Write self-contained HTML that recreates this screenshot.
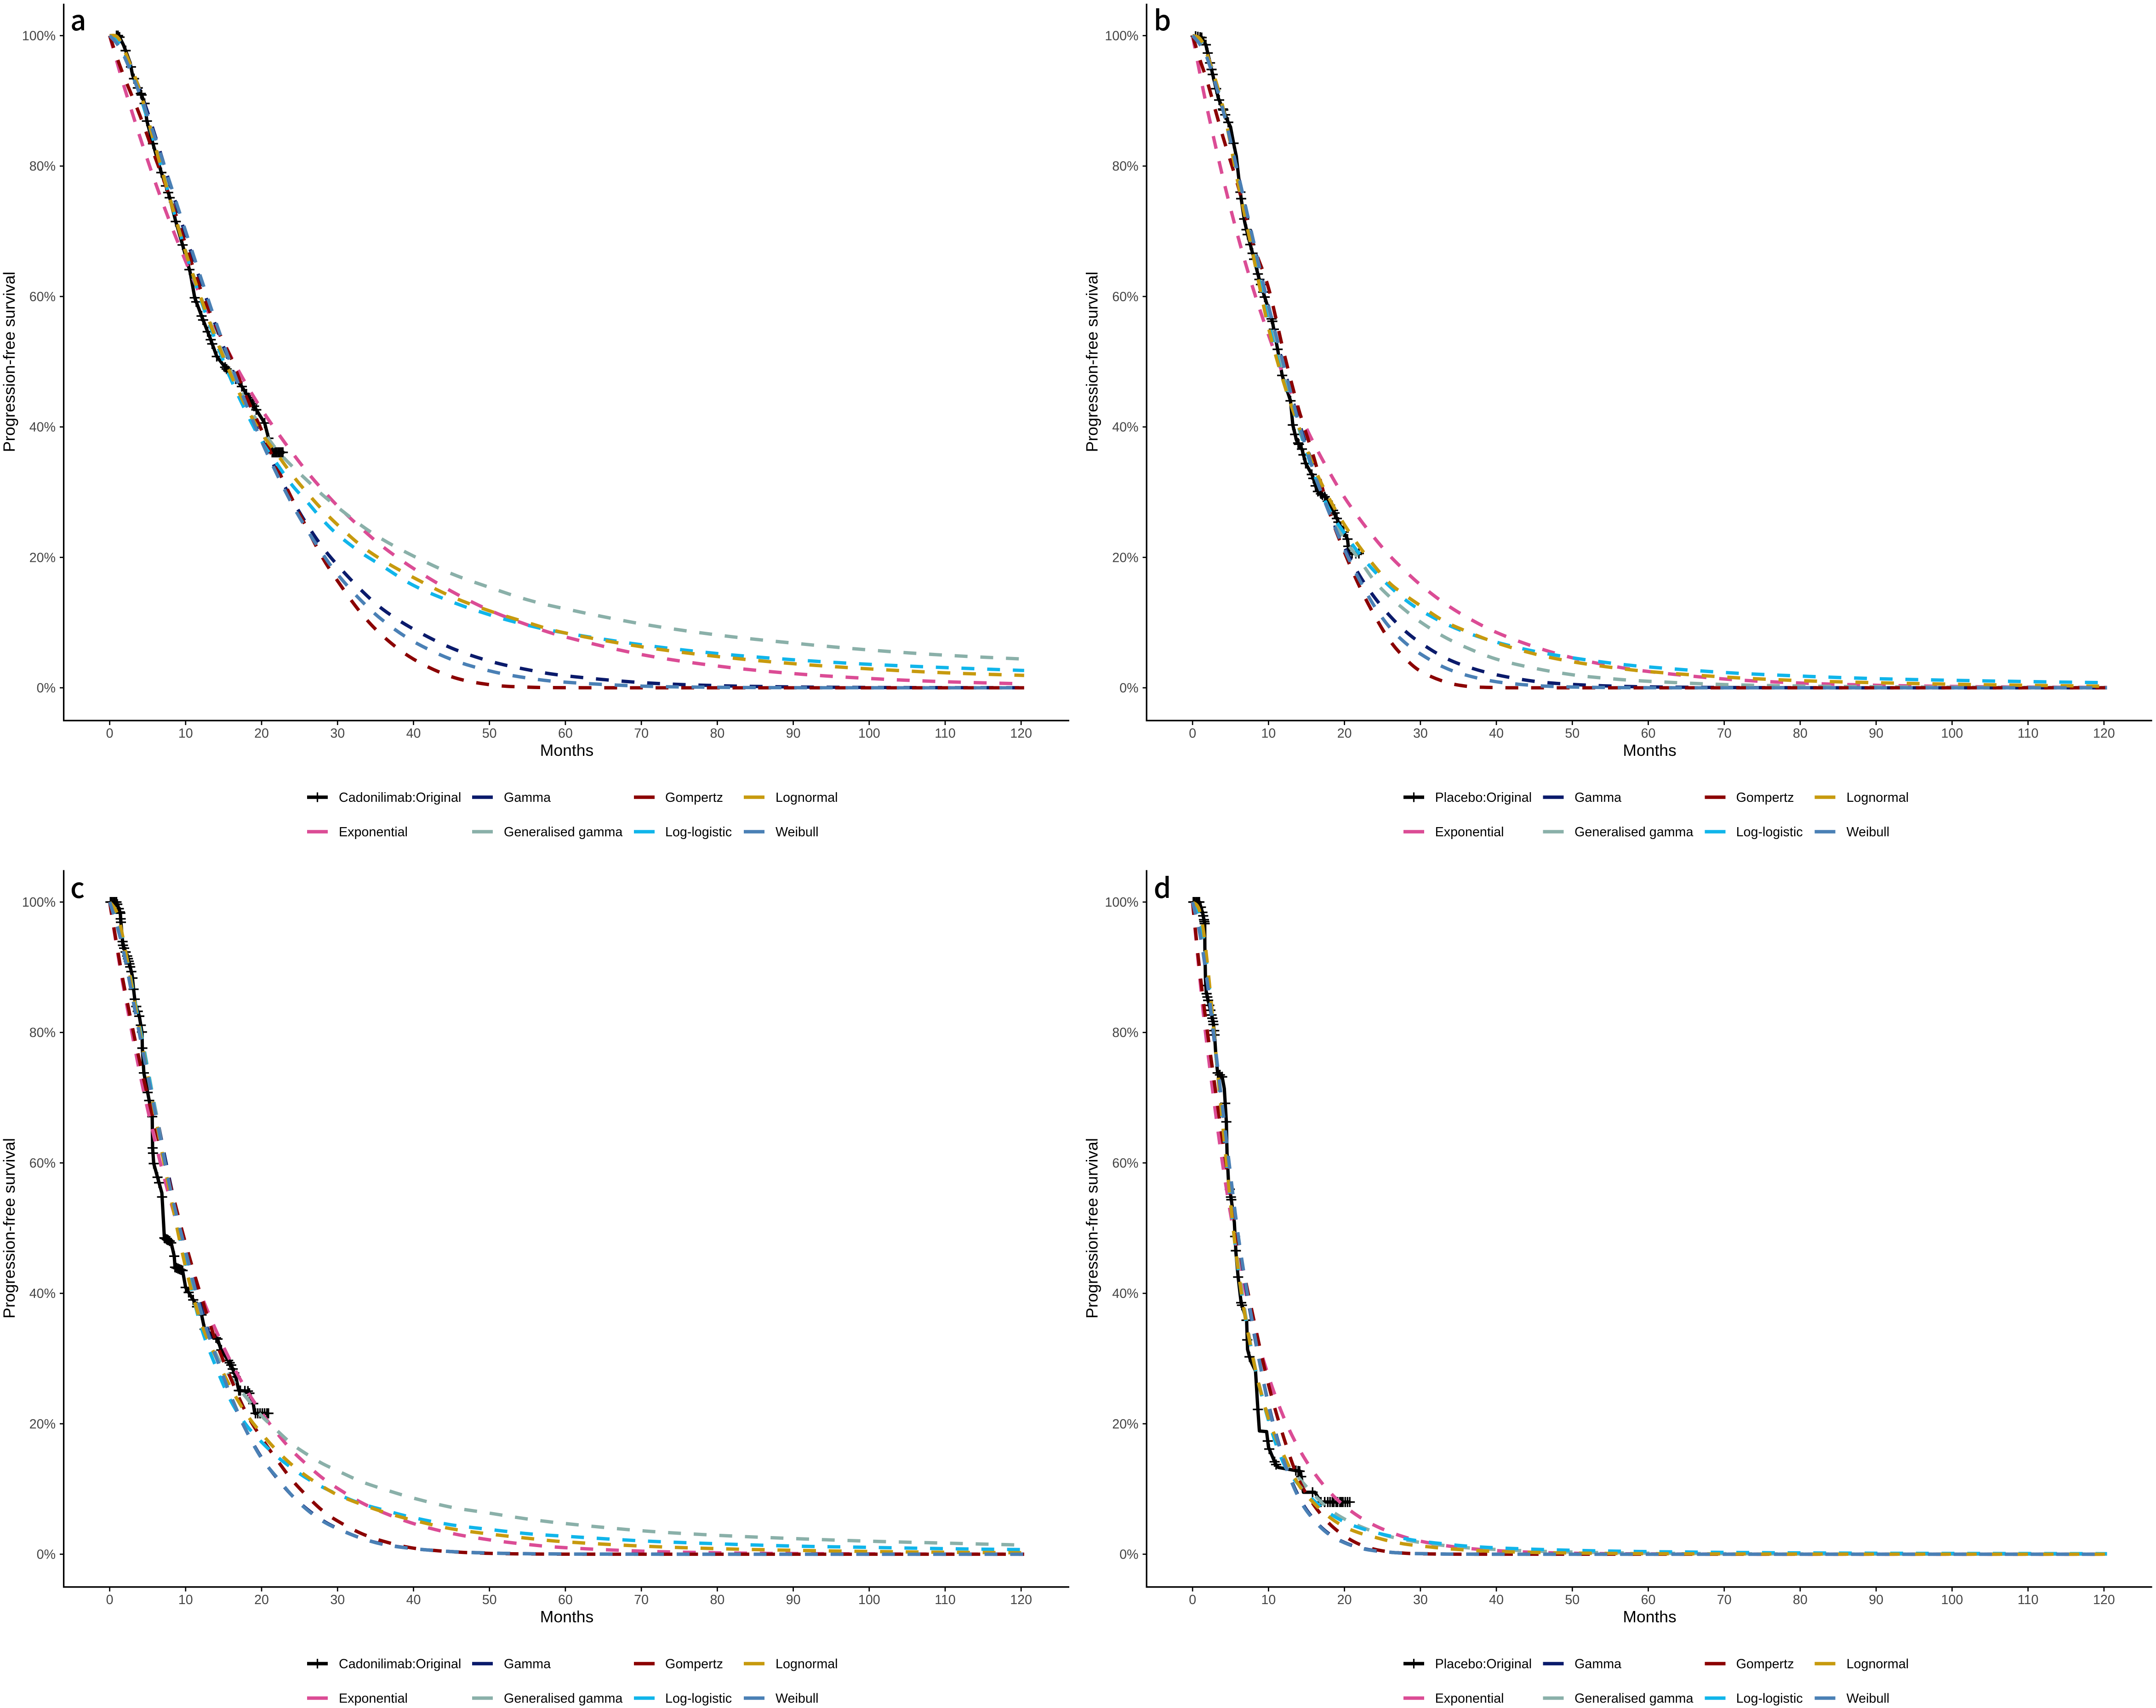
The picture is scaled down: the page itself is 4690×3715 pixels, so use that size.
<!DOCTYPE html>
<html lang="en">
<head>
<meta charset="utf-8">
<title>Progression-free survival extrapolations</title>
<style>
  html, body { margin: 0; padding: 0; background: #ffffff; }
  svg { display: block; font-family: "Liberation Sans", sans-serif; }
  .legend-text { font-size: 28.7px; fill: #000000; }
  .axis-title { font-size: 35.5px; fill: #000000; }
  .panel-letter { font-family: "Noto Sans CJK SC", "Liberation Sans", sans-serif; font-weight: 500; font-size: 60px; fill: #000000; }
  .tick-label { font-size: 28.6px; fill: #444444; }
  .axis-line { stroke: #000000; stroke-width: 3.3; fill: none; }
  .tick-mark { stroke: #000000; stroke-width: 2.7; fill: none; }
</style>
</head>
<body>
<svg id="figure" xmlns="http://www.w3.org/2000/svg" width="4690" height="3715" viewBox="0 0 4690 3715">
  <rect x="0" y="0" width="4690" height="3715" fill="#ffffff"/>

  <g id="panel-a" transform="translate(0 0)">
    <text class="panel-letter" x="153" y="66">a</text>
    <line class="axis-line" x1="138.6" y1="8" x2="138.6" y2="1569"/>
    <line class="axis-line" x1="137" y1="1567.3" x2="2326" y2="1567.3"/>
    <text class="axis-title" x="32" y="787" text-anchor="middle" transform="rotate(-90 32 787)">Progression-free survival</text>
    <text class="axis-title" x="1233" y="1644" text-anchor="middle">Months</text>
    <g>
      <g><line x1="668" x2="713" y1="1734" y2="1734" stroke="#000000" stroke-width="7.5"/><line x1="690.5" x2="690.5" y1="1723.5" y2="1744.5" stroke="#000000" stroke-width="3.2"/><text class="legend-text" x="737" y="1744">Cadonilimab:Original</text></g>
      <g><line x1="1027" x2="1072" y1="1734" y2="1734" stroke="#0a1a6b" stroke-width="7.5"/><text class="legend-text" x="1096" y="1744">Gamma</text></g>
      <g><line x1="1379" x2="1424" y1="1734" y2="1734" stroke="#8b0000" stroke-width="7.5"/><text class="legend-text" x="1447" y="1744">Gompertz</text></g>
      <g><line x1="1618" x2="1663" y1="1734" y2="1734" stroke="#c79a0e" stroke-width="7.5"/><text class="legend-text" x="1687" y="1744">Lognormal</text></g>
      <g><line x1="668" x2="713" y1="1809" y2="1809" stroke="#db4c95" stroke-width="7.5"/><text class="legend-text" x="737" y="1819">Exponential</text></g>
      <g><line x1="1027" x2="1072" y1="1809" y2="1809" stroke="#8ab0a9" stroke-width="7.5"/><text class="legend-text" x="1096" y="1819">Generalised gamma</text></g>
      <g><line x1="1379" x2="1424" y1="1809" y2="1809" stroke="#10b5ea" stroke-width="7.5"/><text class="legend-text" x="1447" y="1819">Log-logistic</text></g>
      <g><line x1="1618" x2="1663" y1="1809" y2="1809" stroke="#4a80b5" stroke-width="7.5"/><text class="legend-text" x="1687" y="1819">Weibull</text></g>
    </g>
  </g>

  <g id="panel-b" transform="translate(2355.6 0)">
    <text class="panel-letter" x="154" y="66">b</text>
    <line class="axis-line" x1="138.6" y1="8" x2="138.6" y2="1569"/>
    <line class="axis-line" x1="137" y1="1567.3" x2="2326" y2="1567.3"/>
    <text class="axis-title" x="32" y="787" text-anchor="middle" transform="rotate(-90 32 787)">Progression-free survival</text>
    <text class="axis-title" x="1233" y="1644" text-anchor="middle">Months</text>
    <g>
      <g><line x1="697.4" x2="742.4" y1="1734" y2="1734" stroke="#000000" stroke-width="7.5"/><line x1="719.9" x2="719.9" y1="1723.5" y2="1744.5" stroke="#000000" stroke-width="3.2"/><text class="legend-text" x="766" y="1744">Placebo:Original</text></g>
      <g><line x1="1000.9" x2="1045.9" y1="1734" y2="1734" stroke="#0a1a6b" stroke-width="7.5"/><text class="legend-text" x="1069.5" y="1744">Gamma</text></g>
      <g><line x1="1352.9" x2="1397.9" y1="1734" y2="1734" stroke="#8b0000" stroke-width="7.5"/><text class="legend-text" x="1421" y="1744">Gompertz</text></g>
      <g><line x1="1591.9" x2="1636.9" y1="1734" y2="1734" stroke="#c79a0e" stroke-width="7.5"/><text class="legend-text" x="1661" y="1744">Lognormal</text></g>
      <g><line x1="697.4" x2="742.4" y1="1809" y2="1809" stroke="#db4c95" stroke-width="7.5"/><text class="legend-text" x="766" y="1819">Exponential</text></g>
      <g><line x1="1000.9" x2="1045.9" y1="1809" y2="1809" stroke="#8ab0a9" stroke-width="7.5"/><text class="legend-text" x="1069.5" y="1819">Generalised gamma</text></g>
      <g><line x1="1352.9" x2="1397.9" y1="1809" y2="1809" stroke="#10b5ea" stroke-width="7.5"/><text class="legend-text" x="1421" y="1819">Log-logistic</text></g>
      <g><line x1="1591.9" x2="1636.9" y1="1809" y2="1809" stroke="#4a80b5" stroke-width="7.5"/><text class="legend-text" x="1661" y="1819">Weibull</text></g>
    </g>
  </g>

  <g id="panel-c" transform="translate(0 1884.5)">
    <text class="panel-letter" x="153" y="68.5">c</text>
    <line class="axis-line" x1="138.6" y1="8" x2="138.6" y2="1569"/>
    <line class="axis-line" x1="137" y1="1567.3" x2="2326" y2="1567.3"/>
    <text class="axis-title" x="32" y="787" text-anchor="middle" transform="rotate(-90 32 787)">Progression-free survival</text>
    <text class="axis-title" x="1233" y="1644" text-anchor="middle">Months</text>
    <g>
      <g><line x1="668" x2="713" y1="1734" y2="1734" stroke="#000000" stroke-width="7.5"/><line x1="690.5" x2="690.5" y1="1723.5" y2="1744.5" stroke="#000000" stroke-width="3.2"/><text class="legend-text" x="737" y="1744">Cadonilimab:Original</text></g>
      <g><line x1="1027" x2="1072" y1="1734" y2="1734" stroke="#0a1a6b" stroke-width="7.5"/><text class="legend-text" x="1096" y="1744">Gamma</text></g>
      <g><line x1="1379" x2="1424" y1="1734" y2="1734" stroke="#8b0000" stroke-width="7.5"/><text class="legend-text" x="1447" y="1744">Gompertz</text></g>
      <g><line x1="1618" x2="1663" y1="1734" y2="1734" stroke="#c79a0e" stroke-width="7.5"/><text class="legend-text" x="1687" y="1744">Lognormal</text></g>
      <g><line x1="668" x2="713" y1="1809" y2="1809" stroke="#db4c95" stroke-width="7.5"/><text class="legend-text" x="737" y="1819">Exponential</text></g>
      <g><line x1="1027" x2="1072" y1="1809" y2="1809" stroke="#8ab0a9" stroke-width="7.5"/><text class="legend-text" x="1096" y="1819">Generalised gamma</text></g>
      <g><line x1="1379" x2="1424" y1="1809" y2="1809" stroke="#10b5ea" stroke-width="7.5"/><text class="legend-text" x="1447" y="1819">Log-logistic</text></g>
      <g><line x1="1618" x2="1663" y1="1809" y2="1809" stroke="#4a80b5" stroke-width="7.5"/><text class="legend-text" x="1687" y="1819">Weibull</text></g>
    </g>
  </g>

  <g id="panel-d" transform="translate(2355.6 1884.5)">
    <text class="panel-letter" x="154" y="68.5">d</text>
    <line class="axis-line" x1="138.6" y1="8" x2="138.6" y2="1569"/>
    <line class="axis-line" x1="137" y1="1567.3" x2="2326" y2="1567.3"/>
    <text class="axis-title" x="32" y="787" text-anchor="middle" transform="rotate(-90 32 787)">Progression-free survival</text>
    <text class="axis-title" x="1233" y="1644" text-anchor="middle">Months</text>
    <g>
      <g><line x1="697.4" x2="742.4" y1="1734" y2="1734" stroke="#000000" stroke-width="7.5"/><line x1="719.9" x2="719.9" y1="1723.5" y2="1744.5" stroke="#000000" stroke-width="3.2"/><text class="legend-text" x="766" y="1744">Placebo:Original</text></g>
      <g><line x1="1000.9" x2="1045.9" y1="1734" y2="1734" stroke="#0a1a6b" stroke-width="7.5"/><text class="legend-text" x="1069.5" y="1744">Gamma</text></g>
      <g><line x1="1352.9" x2="1397.9" y1="1734" y2="1734" stroke="#8b0000" stroke-width="7.5"/><text class="legend-text" x="1421" y="1744">Gompertz</text></g>
      <g><line x1="1591.9" x2="1636.9" y1="1734" y2="1734" stroke="#c79a0e" stroke-width="7.5"/><text class="legend-text" x="1661" y="1744">Lognormal</text></g>
      <g><line x1="697.4" x2="742.4" y1="1809" y2="1809" stroke="#db4c95" stroke-width="7.5"/><text class="legend-text" x="766" y="1819">Exponential</text></g>
      <g><line x1="1000.9" x2="1045.9" y1="1809" y2="1809" stroke="#8ab0a9" stroke-width="7.5"/><text class="legend-text" x="1069.5" y="1819">Generalised gamma</text></g>
      <g><line x1="1352.9" x2="1397.9" y1="1809" y2="1809" stroke="#10b5ea" stroke-width="7.5"/><text class="legend-text" x="1421" y="1819">Log-logistic</text></g>
      <g><line x1="1591.9" x2="1636.9" y1="1809" y2="1809" stroke="#4a80b5" stroke-width="7.5"/><text class="legend-text" x="1661" y="1819">Weibull</text></g>
    </g>
  </g>
</svg>

<script>
// ---- shared axis data ----
const xTickValues = [0,10,20,30,40,50,60,70,80,90,100,110,120];
const yTickValues = [0,20,40,60,80,100];
const yTickLabels = ['0%','20%','40%','60%','80%','100%'];
const modelMonths = [0,1,2,4,6,8,10,12,14,16,18,20,22,24,26,28,30,33,36,40,45,50,55,60,70,80,90,100,110,120.4];

// ---- panel a ----
const aExponential = [100,95.8,91.8,84.4,77.5,71.2,65.4,60,55.2,50.7,46.5,42.7,39.3,36.1,33.1,30.4,27.9,24.6,21.6,18.3,14.8,11.9,9.65,7.8,5.1,3.34,2.18,1.43,0.93,0.61];
const aGamma = [100,99.3,97.3,91.6,84.6,77,69.4,62.2,55.4,49.2,43.4,38.2,33.2,28.9,25,21.6,18.8,15.1,12,9,6.1,4.1,2.78,1.85,0.8,0.33,0.13,0.05,0.02,0.01];
const aGenGamma = [100,99.6,97.6,91.4,83.3,75,67,60,53.8,48.5,43.8,39.8,36.5,34,31.8,29.6,27.7,25,22.7,20.2,17.5,15.4,13.5,12.1,9.8,8.1,6.85,5.8,5,4.4];
const aGompertz = [100,96.5,93.4,87.7,81.3,75,68,61,55.5,50.5,44.6,39.5,33.9,29,24.4,20,16.4,11.6,7.9,4.4,1.7,0.48,0.1,0.02,0,0,0,0,0,0];
const aLogLogistic = [100,99.1,97,90.8,83,74.8,66.8,59.5,53,47.2,42.2,37.8,34.4,31.1,28.5,25.8,23.5,20.8,18.6,15.7,13.2,11.2,9.6,8.4,6.6,5.25,4.3,3.6,3.1,2.65];
const aLognormal = [100,99.8,97.6,91.4,83,74.7,66.8,59.8,53.5,47.9,43,39,35.9,32.7,29.9,27.3,25,21.9,19.5,16.9,14,11.8,10,8.4,6.3,4.8,3.7,2.9,2.3,1.9];
const aWeibull = [100,98.7,96.6,90.9,84.3,77.2,70,62.9,56,49.5,43.4,37.8,32.8,28.2,24.2,20.6,17.4,13.5,10.3,7.1,4.35,2.6,1.5,0.86,0.26,0.075,0.02,0.005,0,0];
const aKmMonths = [0,1.2,1.8,2.1,2.7,3,3.6,4.2,4.6,4.9,5.8,6.8,7.8,8.7,9.6,10.6,11.2,12.2,13.2,14.1,15.3,16.5,17.4,18.4,19.1,20.4,20.8,21.3,23];
const aKmSurvival = [100,100,98.6,97.7,95.8,94,92.2,90.9,89.6,86.9,83,79,75.6,71.5,67.9,63.7,59.8,56.7,53.7,50.8,49,47.5,46.2,44.3,43,40.6,38.8,36.1,36.1];
const aCensorMonths = [0.9,1.1,1.3,2.1,2.8,3.2,3.7,4.1,4.2,4.6,4.9,5.7,6.8,7.4,7.7,7.9,8.7,9.6,10.5,11.2,11.4,12.1,12.3,12.9,13.3,13.5,14.1,15.2,15.4,15.6,16.2,16.6,17.4,18,18.3,18.5,18.8,19,19.3,20.4,20.9,21.4,21.6,21.8,22,22.2,22.4,22.6,22.8];

// ---- panel b ----
const bExponential = [100,94,88.4,78.2,69.1,61.1,54.1,47.8,42.3,37.4,33.1,29.2,25.9,22.9,20.2,17.9,15.8,13.1,10.9,8.5,6.3,4.6,3.4,2.5,1.35,0.73,0.39,0.21,0.11,0.06];
const bGamma = [100,99.2,97,88.9,78.6,68.2,58.3,49.2,40.8,33.6,27,21.6,17.2,13.8,11,8.7,6.9,4.75,3.3,2,1,0.52,0.27,0.14,0.04,0.01,0,0,0,0];
const bGenGamma = [100,99.2,96.8,88.8,78,67.5,57.5,48.3,40.2,33.3,27.2,22.8,19.6,16.3,13.9,11.9,10.1,7.9,6.2,4.4,3,2,1.4,1,0.5,0.27,0.15,0.09,0.05,0.03];
const bGompertz = [100,96.2,92.7,84.5,76.9,68,61.3,51.5,42.6,35.2,27,20.8,15.5,11,7.2,4.5,2.55,1,0.25,0.03,0,0,0,0,0,0,0,0,0,0];
const bLogLogistic = [100,99.4,96.8,89,77.6,66.7,56,47,39.8,32.8,27.3,23.7,20.5,17.8,15.5,13.5,11.9,10,8.5,7,5.6,4.6,3.8,3.2,2.35,1.8,1.4,1.15,0.95,0.78];
const bLognormal = [100,99.5,96.9,89,77.3,66.2,55.2,46.8,40,33.8,29,25,21.6,18.6,16,14.2,12.6,10.3,8.7,6.9,5.2,4,3.15,2.5,1.65,1.1,0.78,0.55,0.38,0.24];
const bWeibull = [100,98.6,96.3,88.6,78.8,68.6,58.6,49.5,40.5,33,26.8,21.2,16.5,12.4,9.2,6.9,5.2,3.2,1.95,0.93,0.35,0.12,0.04,0.01,0,0,0,0,0,0];
const bKmMonths = [0,1.2,1.75,2.66,3.4,4.05,4.66,5,5.4,5.76,6.05,6.4,6.85,7.25,7.75,8.7,9.45,10.5,11.2,11.8,12.9,13.2,13.7,14.4,14.9,15.8,16.4,17.5,18.7,19.2,20.4,20.6,22.3];
const bKmSurvival = [100,99.7,98.6,94,90.4,88.6,86.8,86,83.5,81.5,78.5,75,71.5,69.5,67.3,63,60.1,56.2,51.9,47.9,44,40.3,37.9,36.6,34.4,32.5,30.2,29.2,26.8,25.4,22.8,20.6,20.6];
const bCensorMonths = [0.4,0.7,1,1.2,1.75,2,2.3,2.5,2.65,3.1,3.5,4,4.05,4.3,4.7,5.4,6.3,6.4,6.8,7.1,7.25,7.6,7.9,8.1,8.6,8.8,9,9.3,9.5,10.4,10.5,10.7,11.2,11.8,12.9,13.2,13.5,13.9,14,14.4,14.6,14.9,15.7,15.9,16.2,16.5,16.9,17.1,17.4,17.8,18.1,18.5,18.7,19,19.2,19.5,19.9,20.4,20.5,20.6,21,21.5,21.9];

// ---- panel c ----
const cExponential = [100,92.6,85.8,73.6,63.2,54.2,46.5,39.9,34.3,29.4,25.2,21.7,18.6,15.9,13.7,11.7,10.1,8,6.4,4.7,3.2,2.2,1.5,1,0.47,0.22,0.1,0.05,0.02,0.01];
const cGamma = [100,96.5,91.6,79.8,68.3,56.8,47,38,30.5,24,18.9,14.8,11.7,9,6.9,5.2,3.95,2.5,1.55,0.85,0.4,0.18,0.08,0.03,0.01,0,0,0,0,0];
const cGenGamma = [100,97,92.6,80.7,68.3,55.7,45,37,30.7,27,24,21.2,19,16.9,15.3,13.9,12.8,11.2,10,8.6,7.2,6.3,5.4,4.7,3.6,2.9,2.4,2,1.7,1.4];
const cGompertz = [100,93,86.5,75.3,65.5,56.5,47.6,39.7,32.6,26.8,21.6,17.8,14.5,11.4,8.9,6.7,5.1,3.25,2,0.93,0.38,0.13,0.04,0.01,0,0,0,0,0,0];
const cLogLogistic = [100,97.2,93,80.6,67.8,55.5,44.5,35,28.7,23.4,19.8,17.2,15,13.2,11.6,10.3,9.2,7.8,6.8,5.6,4.5,3.8,3.15,2.75,2.05,1.6,1.25,1.05,0.85,0.7];
const cLognormal = [100,98.2,93,80,67.2,55,44,35.6,30.2,25.4,21.5,18.5,15.9,13.7,11.9,10.4,9.1,7.7,6.5,5.2,3.9,3.1,2.45,1.9,1.25,0.85,0.6,0.42,0.3,0.22];
const cWeibull = [100,96.2,91.4,79.3,67.7,56,46.5,37.4,30.3,24.2,18.9,14.7,11.8,9,6.8,5.1,3.9,2.5,1.5,0.85,0.4,0.17,0.07,0.03,0,0,0,0,0,0];
const cKmMonths = [0,0.9,1.4,1.48,1.74,2.28,2.63,2.96,3.17,3.36,3.9,4.26,4.3,4.5,5,5.6,5.65,5.8,6.3,6.87,7.05,7.2,8.07,8.5,8.6,9.6,10,11,12.1,12.5,14.2,14.65,16,16.6,17,18.3,18.9,19.1,20.9];
const cKmSurvival = [100,100,98.3,96.9,93.4,91.8,90.4,88.8,86.4,84.5,82.5,80,77.6,73.8,70.8,67.1,62.3,59.9,57.8,55.4,51.7,48.5,47.9,45.7,44,43.5,40.9,39,36.7,34.5,33,31.4,29,27.2,25.1,25,23.1,21.6,21.6];
const cCensorMonths = [0.1,0.3,0.5,0.7,0.9,1,1.2,1.35,1.4,1.45,1.48,1.7,1.75,1.9,2.1,2.3,2.4,2.5,2.6,2.7,2.85,3,3.15,3.3,3.5,3.7,3.9,4.1,4.25,4.3,4.5,5,5.2,5.6,5.65,5.7,5.8,6.3,6.5,6.9,7.2,7.3,7.5,7.6,7.7,7.9,8.1,8.5,8.6,8.8,9,9.2,9.4,9.6,10,10.4,11,11.5,12.1,12.5,14,14.2,14.7,15.6,15.8,16,16.2,16.4,16.6,17,17.1,17.2,17.8,18.2,18.4,18.9,19.2,19.5,19.8,20.1,20.4,20.7,20.9];

// ---- panel d ----
const dExponential = [100,87.8,77.1,59.5,45.8,35.3,27.3,21,16.2,12.5,9.6,7.4,5.7,4.4,3.4,2.6,2,1.37,0.93,0.55,0.29,0.15,0.08,0.04,0.01,0,0,0,0,0];
const dGamma = [100,95,87,67.6,48.6,34.5,23,14.5,8.8,5.3,3.1,1.8,1,0.55,0.3,0.16,0.09,0.03,0.01,0,0,0,0,0,0,0,0,0,0,0];
const dGenGamma = [100,97.2,88.8,66,44.6,30,21,14.7,11.7,9.1,6.9,5.4,4.3,3.4,2.7,2.2,1.8,1.35,1,0.72,0.48,0.33,0.23,0.16,0.08,0.04,0.02,0.01,0.01,0.01];
const dGompertz = [100,88.9,79.7,63.1,47.9,36.3,26,17.9,11.4,7.5,4.7,2.8,1.5,0.75,0.35,0.15,0.06,0.02,0,0,0,0,0,0,0,0,0,0,0,0];
const dLogLogistic = [100,97.6,89.2,65.5,43.5,29.8,20.5,13.9,10.6,8.2,6.3,4.95,4.05,3.35,2.8,2.38,2,1.6,1.25,0.98,0.76,0.6,0.48,0.4,0.28,0.2,0.15,0.12,0.1,0.08];
const dLognormal = [100,98.3,90,65.5,43.6,29.8,20.8,15.2,10.6,7.8,5.7,4.2,3.25,2.6,2,1.55,1.27,0.9,0.65,0.42,0.27,0.18,0.12,0.08,0.04,0.02,0.01,0.01,0,0];
const dWeibull = [100,94.9,87.2,68,49,34.8,22.8,14.4,8.6,5.2,3,1.75,0.95,0.52,0.3,0.15,0.08,0.03,0.01,0,0,0,0,0,0,0,0,0,0,0];
const dKmMonths = [0,0.9,1.33,1.6,1.62,1.7,1.8,2.29,2.7,2.88,3.05,3.3,3.9,4.18,4.45,4.54,4.72,5.12,5.5,5.72,6,6.39,7.12,7.24,7.63,8.29,8.6,8.8,9.75,10,10.9,11.3,14.2,14.6,16.1,16.9,20.8];
const dKmSurvival = [100,100,98.3,96.7,93,88.2,86.2,83.7,81.7,80,76.8,73.8,73.2,71.4,66.3,61.5,57.4,54.2,50.9,46.1,42.5,38.6,35.8,31.4,29.7,28.1,22.2,18.9,18.8,16.4,13.9,13.3,12.7,9.5,9.5,8,8];
const dCensorMonths = [0.1,0.3,0.5,0.7,0.9,1.1,1.3,1.4,1.5,1.55,1.6,1.75,1.85,1.95,2.05,2.2,2.35,2.5,2.6,2.7,2.75,2.85,2.9,3.3,3.6,3.9,4.3,4.45,4.9,5.05,5.1,5.6,5.7,6,6.4,6.5,7.1,7.2,7.5,8.6,9.9,10.1,10.8,11,13.6,13.9,14.1,14.3,15.8,16.9,17.4,17.8,18.1,18.4,18.6,18.9,19.1,19.4,19.6,19.8,20.1,20.4,20.7];

// ---- series styling, drawn in this order ----
const seriesKeys = ['exponential','gamma','generalised-gamma','gompertz','log-logistic','lognormal','weibull'];
const seriesColors = ['#db4c95','#0a1a6b','#8ab0a9','#8b0000','#10b5ea','#c79a0e','#4a80b5'];

const panelList = [
  { id:'panel-a', models:[aExponential,aGamma,aGenGamma,aGompertz,aLogLogistic,aLognormal,aWeibull], kmT:aKmMonths, kmS:aKmSurvival, censor:aCensorMonths },
  { id:'panel-b', models:[bExponential,bGamma,bGenGamma,bGompertz,bLogLogistic,bLognormal,bWeibull], kmT:bKmMonths, kmS:bKmSurvival, censor:bCensorMonths },
  { id:'panel-c', models:[cExponential,cGamma,cGenGamma,cGompertz,cLogLogistic,cLognormal,cWeibull], kmT:cKmMonths, kmS:cKmSurvival, censor:cCensorMonths },
  { id:'panel-d', models:[dExponential,dGamma,dGenGamma,dGompertz,dLogLogistic,dLognormal,dWeibull], kmT:dKmMonths, kmS:dKmSurvival, censor:dCensorMonths }
];

// ---- axis functions (panel coordinates) ----
function xScale(month) { return 238.6 + 16.522 * month; }
function yScale(percent) { return 1496 - 14.185 * percent; }

function makeEl(tag, parent) {
  const node = document.createElementNS('http://www.w3.org/2000/svg', tag);
  parent.appendChild(node);
  return node;
}

function smoothPath(points) {
  let d = 'M' + points[0][0].toFixed(2) + ' ' + points[0][1].toFixed(2);
  for (let i = 0; i < points.length - 1; i++) {
    const p0 = points[Math.max(i - 1, 0)];
    const p1 = points[i];
    const p2 = points[i + 1];
    const p3 = points[Math.min(i + 2, points.length - 1)];
    const c1x = p1[0] + (p2[0] - p0[0]) / 6;
    const c1y = p1[1] + (p2[1] - p0[1]) / 6;
    const c2x = p2[0] - (p3[0] - p1[0]) / 6;
    const c2y = p2[1] - (p3[1] - p1[1]) / 6;
    d += 'C' + c1x.toFixed(2) + ' ' + c1y.toFixed(2) + ' ' + c2x.toFixed(2) + ' ' + c2y.toFixed(2) + ' ' + p2[0].toFixed(2) + ' ' + p2[1].toFixed(2);
  }
  return d;
}

function survivalAt(month, times, values) {
  if (month <= times[0]) return values[0];
  for (let i = 1; i < times.length; i++) {
    if (month <= times[i]) {
      const f = (month - times[i - 1]) / (times[i] - times[i - 1] || 1);
      return values[i - 1] + f * (values[i] - values[i - 1]);
    }
  }
  return values[values.length - 1];
}

panelList.forEach(function (panel) {
  const root = document.getElementById(panel.id);

  // x ticks
  xTickValues.forEach(function (value) {
    const tick = makeEl('line', root);
    
    
    tick.setAttribute('class', 'tick-mark');
    tick.setAttribute('x1', xScale(value));
    tick.setAttribute('x2', xScale(value));
    tick.setAttribute('y1', 1568);
    tick.setAttribute('y2', 1577);
    const label = makeEl('text', root);
    
    
    label.setAttribute('class', 'tick-label');
    label.setAttribute('x', xScale(value));
    label.setAttribute('y', 1604.5);
    label.setAttribute('text-anchor', 'middle');
    label.textContent = String(value);
  });

  // y ticks
  yTickValues.forEach(function (value, index) {
    const tick = makeEl('line', root);
    
    
    tick.setAttribute('class', 'tick-mark');
    tick.setAttribute('x1', 130);
    tick.setAttribute('x2', 138);
    tick.setAttribute('y1', yScale(value));
    tick.setAttribute('y2', yScale(value));
    const label = makeEl('text', root);
    
    
    label.setAttribute('class', 'tick-label');
    label.setAttribute('x', 121);
    label.setAttribute('y', yScale(value) + 10);
    label.setAttribute('text-anchor', 'end');
    label.textContent = yTickLabels[index];
  });

  // Kaplan-Meier line
  let kmPath = '';
  panel.kmT.forEach(function (month, i) {
    kmPath += (i === 0 ? 'M' : 'L') + xScale(month).toFixed(2) + ' ' + yScale(panel.kmS[i]).toFixed(2);
  });
  const kmLine = makeEl('path', root);
  
  
  kmLine.setAttribute('d', kmPath);
  kmLine.setAttribute('fill', 'none');
  kmLine.setAttribute('stroke', '#000000');
  kmLine.setAttribute('stroke-width', '7.2');
  kmLine.setAttribute('stroke-linejoin', 'round');

  // censor marks
  panel.censor.forEach(function (month) {
    const px = xScale(month);
    const py = yScale(survivalAt(month, panel.kmT, panel.kmS));
    const mark = makeEl('path', root);
    
    
    mark.setAttribute('d', 'M' + (px - 11) + ' ' + py + 'H' + (px + 11) + 'M' + px + ' ' + (py - 11) + 'V' + (py + 11));
    mark.setAttribute('fill', 'none');
    mark.setAttribute('stroke', '#000000');
    mark.setAttribute('stroke-width', '3.4');
  });

  // fitted model curves
  panel.models.forEach(function (values, index) {
    const points = modelMonths.map(function (month, i) {
      return [xScale(month), yScale(values[i])];
    });
    const curve = makeEl('path', root);
    
    
    curve.setAttribute('d', smoothPath(points));
    curve.setAttribute('fill', 'none');
    curve.setAttribute('stroke', seriesColors[index]);
    curve.setAttribute('stroke-width', '7.3');
    curve.setAttribute('stroke-dasharray', '28 27.8');
  });
});
</script>
</body>
</html>
